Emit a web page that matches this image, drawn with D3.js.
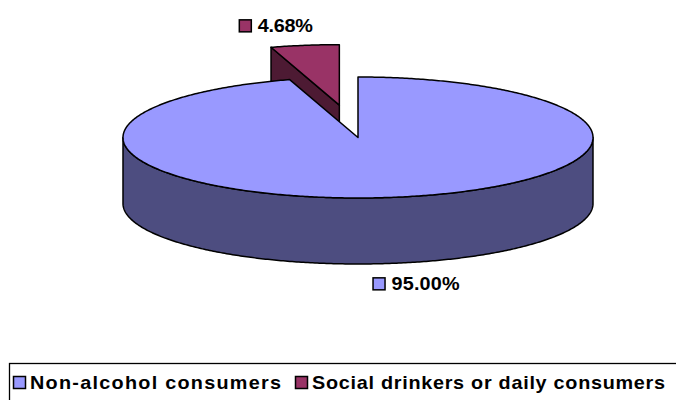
<!DOCTYPE html>
<html>
<head>
<meta charset="utf-8">
<script src="https://cdn.jsdelivr.net/npm/d3@7"></script>
<style>
  html, body { margin: 0; padding: 0; background: #fff; }
  svg { display: block; }
  text { font-family: Arial, "Liberation Sans", Helvetica, sans-serif; font-weight: bold; fill: #000; }
</style>
</head>
<body>
<svg id="chart" width="676" height="400"></svg>
<script>
// Survey shares by drinking habit
const categories = ["Non-alcohol consumers", "Social drinkers or daily consumers"];
const values = [95.00, 4.68];
const valueLabels = ["95.00%", "4.68%"];
const sliceColors = ["#9999FF", "#993366"];
const explodeBy = [0, 0.54];

// Layout of the tilted pie
const cx = 358, cy = 137.5, rx = 235, ry = 60.5, depth = 66;
const outline = { stroke: "#000", width: 1.5 };
const fontSize = 18, stretch = 1.1;

const svg = d3.select("#chart");

// Unit-circle ground plane -> screen (v points away from the viewer)
const xs = d3.scaleLinear().domain([-1, 1]).range([cx - rx, cx + rx]);
const ys = d3.scaleLinear().domain([-1, 1]).range([cy + ry, cy - ry]);

const arcs = d3.pie().sort(null).value(d => d)(values);

const slices = arcs.map((a, i) => {
  const mid = (a.startAngle + a.endAngle) / 2;
  return {
    i, a0: a.startAngle, a1: a.endAngle, mid,
    ox: explodeBy[i] * Math.sin(mid),
    oy: explodeBy[i] * Math.cos(mid),
    color: sliceColors[i]
  };
});

function pt(s, ang, r, z) {
  return [xs(s.ox + r * Math.sin(ang)), ys(s.oy + r * Math.cos(ang)) + z];
}
function arcPts(s, from, to, z) {
  const n = Math.max(2, Math.ceil(Math.abs(to - from) / 0.01));
  return d3.range(n + 1).map(k => pt(s, from + (to - from) * k / n, 1, z));
}
const line = d3.line();
const closed = p => line(p) + "Z";

function shade(c) {
  const r = d3.rgb(c);
  return d3.rgb(r.r * 0.5, r.g * 0.5, r.b * 0.5).formatHex();
}

// wide bold text, fitted to a given run length
function wideText(sel, x, y, str, len) {
  return sel.append("text")
    .attr("transform", `translate(${x},${y}) scale(${stretch},1)`)
    .attr("font-size", fontSize)
    .attr("textLength", len / stretch).attr("lengthAdjust", "spacing")
    .text(str);
}

// back slices first
const order = slices.slice().sort((p, q) => Math.cos(q.mid) - Math.cos(p.mid));

const g = svg.append("g");
order.forEach(s => {
  const side = shade(s.color);
  const faces = [];
  // outer wall (front half only)
  const w0 = Math.max(s.a0, Math.PI / 2), w1 = Math.min(s.a1, 3 * Math.PI / 2);
  if (w1 > w0) {
    const top = arcPts(s, w0, w1, 0);
    const bot = arcPts(s, w0, w1, depth).reverse();
    faces.push({ d: closed(top.concat(bot)), fill: side });
  }
  // radial cut faces
  const c0 = pt(s, 0, 0, 0), c1 = pt(s, 0, 0, depth);
  if (Math.sin(s.a0) < -1e-6) {
    faces.push({ d: closed([c0, pt(s, s.a0, 1, 0), pt(s, s.a0, 1, depth), c1]), fill: side });
  }
  if (Math.sin(s.a1) > 1e-6) {
    faces.push({ d: closed([c0, pt(s, s.a1, 1, 0), pt(s, s.a1, 1, depth), c1]), fill: side });
  }
  // top face
  faces.push({ d: closed([c0].concat(arcPts(s, s.a0, s.a1, 0))), fill: s.color });

  g.selectAll(null).data(faces).enter().append("path")
    .attr("d", d => d.d)
    .attr("fill", d => d.fill)
    .attr("stroke", outline.stroke)
    .attr("stroke-width", outline.width)
    .attr("stroke-linejoin", "round");
});

// value labels, anchored to each slice's rim at its mid angle
const box = 12;
const labelSpec = [
  { len: 68, anchor: s => pt(s, s.mid, 1, depth), dx: -20, dy: 27 },
  { len: 55, anchor: s => pt(s, s.mid, 1, 0), dx: -66, dy: -13 }
];
slices.forEach(s => {
  const spec = labelSpec[s.i];
  const [ax, ay] = spec.anchor(s);
  const x = ax + spec.dx, y = ay + spec.dy;
  svg.append("rect")
    .attr("x", x + 0.5).attr("y", y - box - 0.5)
    .attr("width", box).attr("height", box)
    .attr("fill", s.color).attr("stroke", "#000").attr("stroke-width", 1.5);
  wideText(svg, x + box + 7, y, valueLabels[s.i], spec.len);
});

// legend
const legend = svg.append("g");
legend.append("rect")
  .attr("x", 9.5).attr("y", 363.5).attr("width", 720).attr("height", 60)
  .attr("fill", "none").attr("stroke", "#000").attr("stroke-width", 1.3);
const legendLens = [251, 353];
let lx = 13;
categories.forEach((c, i) => {
  legend.append("rect")
    .attr("x", lx + 0.5).attr("y", 376.5).attr("width", box).attr("height", box)
    .attr("fill", sliceColors[i]).attr("stroke", "#000").attr("stroke-width", 1.5);
  wideText(legend, lx + 17, 389, c, legendLens[i]);
  lx += 17 + legendLens[i] + 14;
});
</script>
</body>
</html>
